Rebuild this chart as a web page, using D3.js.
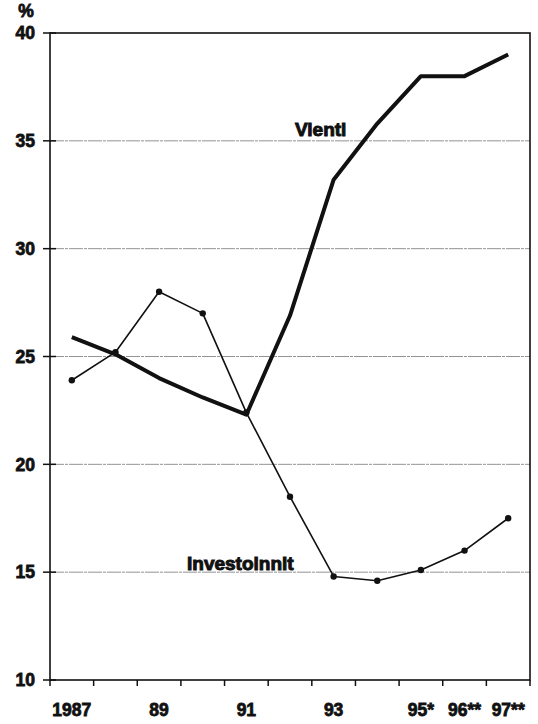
<!DOCTYPE html>
<meta charset="utf-8">
<script src="https://d3js.org/d3.v7.min.js"></script>
<style>
body { margin: 0; background: #fff; }
text { font-family: "Liberation Sans", Arial, sans-serif; font-weight: bold; fill: #111; stroke: #111; stroke-width: 0.8px; }
.grid line { stroke: #777; stroke-width: 0.8px; stroke-dasharray: 14,1,3,1; }
path.line { fill: none; stroke: #111; stroke-linejoin: round; }
</style>
<body>
<script>

// data
var years = ["1987", "1988", "1989", "1990", "1991", "1992", "1993", "1994", "1995", "1996", "1997"];
var yearLabels = ["1987", "", "89", "", "91", "", "93", "", "95*", "96**", "97**"];
var vienti = [25.9, 25.1, 24.0, 23.1, 22.3, 26.9, 33.2, 35.8, 38.0, 38.0, 39.0];
var investoinnit = [23.9, 25.2, 28.0, 27.0, 22.4, 18.5, 14.8, 14.6, 15.1, 16.0, 17.5];
var yTicks = [10, 15, 20, 25, 30, 35, 40];

var margin = {top: 33, right: 8, bottom: 44, left: 50};
var width = 538 - margin.left - margin.right;
var height = 724 - margin.top - margin.bottom;

var svg = d3.select("body").append("svg")
    .attr("width", 538)
    .attr("height", 724);

var g = svg.append("g")
    .attr("transform", "translate(" + margin.left + "," + margin.top + ")");

var x = d3.scaleBand().domain(years).range([0, width]);
var y = d3.scaleLinear().domain([10, 40]).range([height, 0]);

// gridlines
g.append("g").attr("class", "grid")
  .selectAll("line")
  .data(yTicks.filter(function(d) { return d > 10 && d < 40; }))
  .enter().append("line")
    .attr("x1", 0).attr("x2", width)
    .attr("y1", function(d) { return y(d); })
    .attr("y2", function(d) { return y(d); });

// frame
g.append("rect")
    .attr("width", width).attr("height", height)
    .attr("fill", "none").attr("stroke", "#111").attr("stroke-width", 1.6);

// y ticks and labels
var yt = g.append("g").selectAll("g").data(yTicks).enter().append("g")
    .attr("transform", function(d) { return "translate(0," + y(d) + ")"; });
yt.append("line").attr("x1", -7).attr("x2", 6)
    .attr("stroke", "#111").attr("stroke-width", 1.5);
yt.append("text").attr("x", -15).attr("dy", "0.36em")
    .attr("text-anchor", "end").style("font-size", "17.5px")
    .text(function(d) { return d; });

g.append("text").attr("x", -24).attr("y", -16)
    .attr("text-anchor", "middle").style("font-size", "17.5px").text("%");

// x ticks at band edges
var edges = years.map(function(d) { return x(d); }).concat([width]);
g.append("g").selectAll("line").data(edges).enter().append("line")
    .attr("x1", function(d) { return d; }).attr("x2", function(d) { return d; })
    .attr("y1", height).attr("y2", height + 6)
    .attr("stroke", "#111").attr("stroke-width", 1.5);

g.append("g").selectAll("text").data(years).enter().append("text")
    .attr("x", function(d) { return x(d) + x.bandwidth() / 2; })
    .attr("y", height + 36)
    .attr("text-anchor", "middle").style("font-size", "17.5px")
    .text(function(d, i) { return yearLabels[i]; });

var line = d3.line()
    .x(function(d, i) { return x(years[i]) + x.bandwidth() / 2; })
    .y(function(d) { return y(d); });

g.append("path").datum(investoinnit).attr("class", "line")
    .attr("stroke-width", 1.6).attr("d", line);

g.append("g").selectAll("circle").data(investoinnit).enter().append("circle")
    .attr("cx", function(d, i) { return x(years[i]) + x.bandwidth() / 2; })
    .attr("cy", function(d) { return y(d); })
    .attr("r", 3.2).attr("fill", "#111");

g.append("path").datum(vienti).attr("class", "line")
    .attr("stroke-width", 4).attr("d", line);

// series labels
g.append("text").attr("x", 245).attr("y", 103)
    .style("font-size", "19px").style("stroke-width", "1px").text("Vienti");
g.append("text").attr("x", 137).attr("y", 537)
    .style("font-size", "19px").style("stroke-width", "1px").text("Investoinnit");

</script>
</body>
</html>
